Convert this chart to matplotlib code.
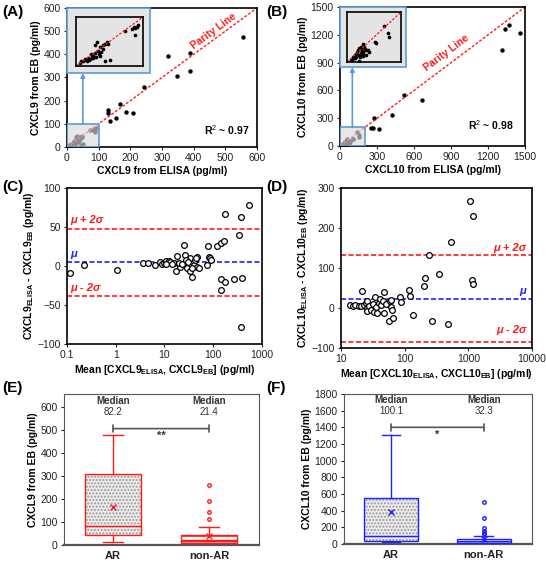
import numpy as np
import matplotlib.pyplot as plt
from matplotlib import ticker
from matplotlib.patches import Rectangle, PathPatch

plt.rcParams['font.family'] = ['Liberation Sans', 'DejaVu Sans']
plt.rcParams['font.size'] = 7
plt.rcParams['mathtext.fontset'] = 'custom'
plt.rcParams['mathtext.rm'] = 'Liberation Sans'
plt.rcParams['mathtext.bf'] = 'Liberation Sans:bold'
plt.rcParams['mathtext.it'] = 'Liberation Sans:italic'

RED = '#ff1a1a'
BLUE = '#1f1fff'
SKY = '#5b9bd5'

# ---- (A) CXCL9 parity ----
a_elisa = [555, 318, 390, 390, 348, 243, 168, 130, 128, 185, 210, 155, 135]
a_eb = [475, 393, 405, 327, 307, 258, 187, 160, 145, 153, 145, 125, 112]
a_elisa_lo = [73, 83, 86, 88, 91, 88, 93, 31, 28, 33, 36, 41, 46, 48, 36, 38, 23, 18, 13,
              11, 6, 8, 1, 16, 21, 26, 43, 51, 20, 25, 30, 35, 28, 40, 44, 15, 24]
a_eb_lo = [72, 75, 79, 77, 80, 63, 84, 49, 42, 31, 21, 42, 49, 45, 38, 28, 24, 17, 14,
           10, 7, 10, 0, 10, 14, 21, 10, 12, 12, 16, 18, 25, 26, 35, 44, 12, 20]

# ---- (B) CXCL10 parity ----
b_elisa = [1455, 1370, 1335, 1310, 665, 515, 425, 320, 275, 265, 250]
b_eb = [1225, 1305, 1265, 1040, 495, 550, 340, 185, 300, 190, 190]
b_elisa_lo = [136, 150, 155, 102, 108, 59, 53, 40, 34, 22, 28, 47, 65, 71, 77, 83, 45, 30,
              35, 50, 55, 60, 45, 38, 25, 60, 70, 42, 52, 64, 20, 15, 48, 58, 33]
b_eb_lo = [146, 115, 101, 81, 77, 74, 61, 47, 34, 20, 27, 27, 54, 47, 50, 41, 5, 15,
           25, 35, 45, 40, 55, 40, 18, 25, 30, 30, 52, 62, 10, 8, 20, 33, 22]

# ---- (C) CXCL9 Bland-Altman ----
c_mean = [0.113, 0.227, 1.07, 3.6, 4.7, 6.5, 8.0, 9.0, 9.8, 10.8, 12.3, 13.2, 15.6, 17,
          18.3, 21, 24.8, 25.8, 26, 29, 29, 33, 34, 37, 40, 43, 47, 47, 50, 75, 77, 81,
          85, 91, 120, 142, 166, 176, 142, 146, 176, 266, 335, 365, 393, 550, 365,
          11, 14, 20, 23, 28, 31, 36, 44]
c_diff = [-8.5, 1, -5, 4, 4, 1, 5, 2, 4, 6, 7, 5, 4, -7,
          13, -1, 27, 2, 14, 6, -2, -7, 10, -14, 1, 8, -1, 12, -3, 1, 25, 12,
          10, 8, 25, 29, 32, 67, -17, -31, -20, -17, 40, 63, -16, 78, -78,
          3, 2, 4, 3, 8, 5, -3, 10]
c_lines = [48, 5, -38]

# ---- (D) CXCL10 Bland-Altman ----
d_mean = [13.9, 15.2, 16.8, 18.9, 20.6, 21.4, 23, 24.7, 25.6, 26, 26, 27.8, 29.6, 31.4,
          33.4, 34.6, 35.5, 36.3, 39, 40.9, 42.5, 45, 47, 48, 51, 56, 59, 61, 61, 63, 66,
          85, 87, 118, 122, 133, 204, 211, 238, 268, 348, 485, 530, 1048, 1184, 1155, 1184]
d_diff = [7, 4, 7, 4, 4, 43, 8, 12, 18, 0, -8, 4, -4, 10,
          -10, 27, 2, -12, 13, 23, 8, 17, 41, -12, 10, -32, 17, 2, 21, -4, -25,
          27, 14, 46, 29, -17, 54, 76, 133, -33, 85, -40, 164, 268, 230, 70, 60]
d_lines = [132, 23, -85]

# ---- (E)/(F) box plots ----
groups = ['AR', 'non-AR']
e_stats = [dict(whislo=15, q1=42, med=82.2, q3=307, whishi=477, mean=163, fliers=[]),
           dict(whislo=2, q1=8, med=21.4, q3=42, whishi=78, mean=41,
                fliers=[259, 189, 145, 112])]
f_stats = [dict(whislo=30, q1=42, med=100.1, q3=555, whishi=1312, mean=390, fliers=[]),
           dict(whislo=5, q1=18, med=32.3, q3=62, whishi=92, mean=58,
                fliers=[500, 310, 198, 162, 135, 115])]
e_medians = ['82.2', '21.4']
f_medians = ['100.1', '32.3']

fig = plt.figure(figsize=(5.46, 5.62), dpi=100)


def frame(ax, lw=1.2, color='black'):
    for s in ax.spines.values():
        s.set_linewidth(lw)
        s.set_color(color)
    ax.tick_params(direction='out', length=2.5, width=0.8, labelsize=7.5,
                   colors='#222222', pad=2)


def parity_panel(rect, xs, ys, xs_lo, ys_lo, lim, step, zlim, outer, inner, arrow_x,
                 txt_xy, r2, xlabel, ylabel):
    ax = fig.add_axes(rect)
    ax.scatter(xs + xs_lo, ys + ys_lo, s=10, color='black', zorder=2, linewidths=0)
    ax.plot([0, lim], [0, lim], color=RED, ls=(0, (2, 1.3)), lw=1.0, zorder=2)
    ax.add_patch(Rectangle((0, 0), zlim, zlim, fc=(0.86, 0.86, 0.86, 0.65), ec=SKY,
                           lw=1.2, zorder=3))
    ax.add_patch(Rectangle((outer[0], outer[1]), outer[2], outer[3], transform=ax.transAxes,
                           fc='#e4e4e4', ec=SKY, lw=1.2, zorder=4, clip_on=False))
    ax.annotate('', xy=(arrow_x, outer[1]), xycoords=('data', 'axes fraction'),
                xytext=(arrow_x, zlim), textcoords='data',
                arrowprops=dict(arrowstyle='-|>', color=SKY, lw=1.2, mutation_scale=6,
                                shrinkA=0, shrinkB=0), zorder=4)
    ax.set_xlim(0, lim)
    ax.set_ylim(0, lim)
    ax.set_xticks(np.arange(0, lim + 1, step))
    ax.set_yticks(np.arange(0, lim + 1, step))
    frame(ax)
    ax.set_xlabel(xlabel, fontweight='bold', fontsize=7.5, labelpad=2)
    ax.set_ylabel(ylabel, fontweight='bold', fontsize=7.5, labelpad=2)
    ang = ax.transData.transform_angles(np.array([45.0]), np.array([txt_xy]))[0]
    ax.text(txt_xy[0], txt_xy[1], 'Parity Line', color=RED, fontweight='bold', fontsize=7.5,
            rotation=ang, rotation_mode='anchor', ha='center', va='center')
    ax.text(r2[0], r2[1], r2[2], transform=ax.transAxes, ha='right', va='bottom',
            fontweight='bold', fontsize=7.5)

    ins = ax.inset_axes(inner, zorder=5)
    ins.set_facecolor('#e4e4e4')
    ins.scatter(xs_lo, ys_lo, s=7, color='black', linewidths=0)
    ins.plot([0, zlim], [0, zlim], color=RED, ls=(0, (2, 1.3)), lw=0.9)
    ins.set_xlim(0, zlim)
    ins.set_ylim(0, zlim)
    ins.set_xticks([])
    ins.set_yticks([])
    for s in ins.spines.values():
        s.set_linewidth(1.2)
    return ax


parity_panel([0.1227, 0.7384, 0.348, 0.2474], a_elisa, a_eb, a_elisa_lo, a_eb_lo, 600, 100,
             100, (0, 0.532, 0.437, 0.468), [0.047, 0.583, 0.353, 0.352], 50,
             (462, 500), (0.96, 0.07, r'R$^2$ ~ 0.97'),
             'CXCL9 from ELISA (pg/ml)', 'CXCL9 from EB (pg/ml)')
parity_panel([0.6227, 0.7402, 0.339, 0.2473], b_elisa, b_eb, b_elisa_lo, b_eb_lo, 1500, 300,
             200, (0, 0.568, 0.357, 0.432), [0.038, 0.604, 0.292, 0.36], 100,
             (860, 1000), (0.94, 0.1, r'R$^2$ ~ 0.98'),
             'CXCL10 from ELISA (pg/ml)', 'CXCL10 from EB (pg/ml)')


def ba_panel(rect, xm, yd, lines, xlim, ylim, yticks, left_labels, label_ys, xlabel, ylabel):
    ax = fig.add_axes(rect)
    ax.set_xscale('log')
    ax.scatter(xm, yd, s=17, facecolors='white', edgecolors='black', linewidths=0.9, zorder=3)
    cols = [RED, BLUE, RED]
    labs = ['μ + 2σ', 'μ', 'μ - 2σ']
    for v, c, lab, ly in zip(lines, cols, labs, label_ys):
        ax.axhline(v, color=c, ls=(0, (3, 1.5)), lw=1.2, zorder=2)
        if left_labels:
            ax.text(0.015, ly, lab, color=c, fontweight='bold', style='italic', fontsize=8,
                    transform=ax.get_yaxis_transform(), ha='left', va='bottom')
        else:
            ax.text(0.97, ly, lab, color=c, fontweight='bold', style='italic', fontsize=8,
                    transform=ax.get_yaxis_transform(), ha='right', va='bottom')
    ax.set_xlim(*xlim)
    ax.set_ylim(*ylim)
    ax.set_yticks(yticks)
    ax.xaxis.set_major_formatter(ticker.FuncFormatter(lambda v, p: f'{v:g}'))
    ax.xaxis.set_minor_locator(ticker.NullLocator())
    frame(ax)
    ax.set_xlabel(xlabel, fontweight='bold', fontsize=7.5, labelpad=2)
    ax.set_ylabel(ylabel, fontweight='bold', fontsize=7.5, labelpad=1)
    return ax


ba_panel([0.1227, 0.3879, 0.357, 0.2776], c_mean, c_diff, c_lines, (0.1, 1000), (-100, 100),
         [-100, -50, 0, 50, 100], True, [52, 9, -34],
         r'Mean [CXCL9$_{\mathbf{ELISA}}$, CXCL9$_{\mathbf{EB}}$] (pg/ml)',
         r'CXCL9$_{\mathbf{ELISA}}$ - CXCL9$_{\mathbf{EB}}$ (pg/ml)')
ba_panel([0.6245, 0.3808, 0.350, 0.2847], d_mean, d_diff, d_lines, (10, 10000), (-100, 300),
         [-100, 0, 100, 200, 300], False, [138, 30, -68],
         r'Mean [CXCL10$_{\mathbf{ELISA}}$, CXCL10$_{\mathbf{EB}}$] (pg/ml)',
         r'CXCL10$_{\mathbf{ELISA}}$ - CXCL10$_{\mathbf{EB}}$ (pg/ml)')


def box_panel(rect, stats, medians, color, hatches, ylim, yticks, sig_y, sig_h, stars,
              med_y, ylabel):
    ax = fig.add_axes(rect)
    for st, g in zip(stats, groups):
        st['label'] = g
    bp = ax.bxp(stats, positions=[1, 2], widths=0.58, patch_artist=True, showmeans=True,
                capwidths=[0.2, 0.2],
                whiskerprops=dict(color=color, lw=1.0),
                capprops=dict(color=color, lw=1.0),
                medianprops=dict(color=color, lw=1.0),
                meanprops=dict(marker='x', markeredgecolor=color, markersize=4.5, mew=1.0),
                flierprops=dict(marker='o', markersize=2.5, markerfacecolor='none',
                                markeredgecolor=color, mew=1.0))
    for box, (fc, hc, h) in zip(bp['boxes'], hatches):
        box.set_facecolor(fc)
        box.set_edgecolor(hc)
        box.set_hatch(h)
        box.set_linewidth(0)
        ax.add_patch(PathPatch(box.get_path(), fill=False, ec=color, lw=1.0, zorder=3))
    ax.annotate('', xy=(1, sig_y), xytext=(2, sig_y),
                arrowprops=dict(arrowstyle='|-|,widthA=0.35,widthB=0.35', color='#555555',
                                lw=1.2, shrinkA=0, shrinkB=0))
    ax.text(1.5, sig_y - sig_h, stars, ha='center', va='top', fontsize=8,
            fontweight='bold', color='#333333')
    for pos, m in zip([1, 2], medians):
        ax.text(pos, med_y[0], 'Median', ha='center', va='center', fontweight='bold',
                fontsize=7, color='#333333')
        ax.text(pos, med_y[1], m, ha='center', va='center', fontsize=7, color='#333333')
    ax.set_xlim(0.49, 2.52)
    ax.set_ylim(*ylim)
    ax.set_yticks(yticks)
    frame(ax, lw=0.8, color='#555555')
    ax.spines['bottom'].set_linewidth(1.6)
    ax.tick_params(axis='x', length=0, labelsize=8, pad=4)
    for t in ax.get_xticklabels():
        t.set_fontweight('bold')
    ax.set_ylabel(ylabel, fontweight='bold', fontsize=7.5, labelpad=2)
    return ax


box_panel([0.1172, 0.0302, 0.357, 0.2687], e_stats, e_medians, RED,
          [('#ececec', '#9a9a9a', '.....'), ('white', RED, '---')],
          (0, 655), np.arange(0, 601, 100), 505, 8, '**', (625, 577),
          'CXCL9 from EB (pg/ml)')
box_panel([0.630, 0.032, 0.344, 0.267], f_stats, f_medians, BLUE,
          [('#ececec', '#9a9a9a', '.....'), ('white', BLUE, '-----')],
          (0, 1800), np.arange(0, 1801, 200), 1400, 30, '*', (1725, 1600),
          'CXCL10 from EB (pg/ml)')

for lab, x, y in [('(A)', 0.004, 0.978), ('(B)', 0.487, 0.978), ('(C)', 0.004, 0.667),
                  ('(D)', 0.487, 0.667), ('(E)', 0.004, 0.31), ('(F)', 0.487, 0.31)]:
    fig.text(x, y, lab, fontsize=11, fontweight='bold', va='center', ha='left')

fig.savefig('out.png', dpi=100)
